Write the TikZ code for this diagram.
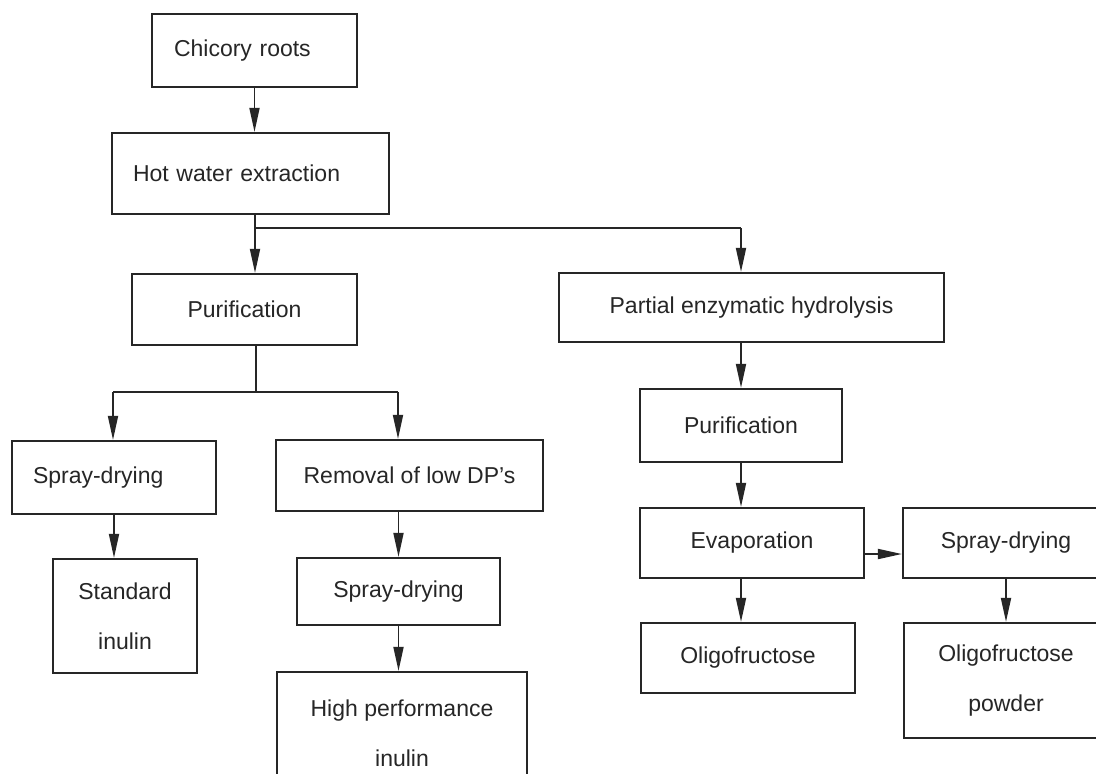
\documentclass[tikz,border=0pt]{standalone}
\usepackage{fontspec}
\setmainfont{Liberation Sans}
\usetikzlibrary{arrows.meta}
\begin{document}
\begin{tikzpicture}[x=1pt,y=-1pt,
  flowbox/.style={draw=black!85, line width=2.2pt, rectangle, inner sep=0pt, align=center,
    font=\fontsize{23}{50}\selectfont, text=black!85},
  lbox/.style={flowbox, align=left},
  arr/.style={draw=black!85, line width=1.8pt, -{Triangle[length=24pt,width=10pt]}},
  ln/.style={draw=black!85, line width=1.8pt}]
\useasboundingbox (0,0) rectangle (1096,774);
\clip (0,0) rectangle (1096,774);
\fill[white] (0,0) rectangle (1096,774);
% boxes
\node[lbox, minimum width=205pt, minimum height=73pt, inner xsep=22pt, text width=161pt] (chicory) at (254.5,50.5) {Chicory roots};
\node[lbox, minimum width=277pt, minimum height=81pt, inner xsep=21pt, text width=235pt] (hotwater) at (250.5,173.5) {Hot water extraction};
\node[flowbox, minimum width=225pt, minimum height=71pt] (purL) at (244.5,309.5) {Purification};
\node[flowbox, minimum width=385pt, minimum height=69pt] (partial) at (751.5,307.5) {Partial enzymatic hydrolysis};
\node[lbox, minimum width=204pt, minimum height=73pt, inner xsep=21pt, text width=162pt] (sprayL) at (114,477.5) {Spray-drying};
\node[flowbox, minimum width=267pt, minimum height=71pt] (removal) at (409.5,475.5) {Removal of low DP's};
\node[flowbox, minimum width=144pt, minimum height=114pt] (std) at (125,616) {Standard\\inulin};
\node[flowbox, minimum width=203pt, minimum height=67pt] (sprayM) at (398.5,591.5) {Spray-drying};
\node[flowbox, minimum width=250pt, minimum height=123pt] (hpi) at (402,733.5) {High performance\\inulin};
\node[flowbox, minimum width=202pt, minimum height=73pt] (purR) at (741,425.5) {Purification};
\node[flowbox, minimum width=224pt, minimum height=70pt] (evap) at (752,543) {Evaporation};
\node[flowbox, minimum width=206pt, minimum height=70pt] (sprayR) at (1006,543) {Spray-drying};
\node[flowbox, minimum width=214pt, minimum height=70pt] (oligo) at (748,658) {Oligofructose};
\node[flowbox, minimum width=204pt, minimum height=115pt] (olipow) at (1006,680.5) {Oligofructose\\powder};
% junctions
\coordinate (j1) at (255,228);
\coordinate (j1r) at (741,228);
\coordinate (j2) at (256,392);
\coordinate (j2l) at (113,392);
\coordinate (j2r) at (398,392);
% connectors
\draw[arr] (chicory.south) -- (chicory.south |- hotwater.north);
\draw[ln] (hotwater.south -| j1) -- (j1) -- (j1r);
\draw[arr] (j1) -- (j1 |- purL.north);
\draw[arr] (j1r) -- (j1r |- partial.north);
\draw[ln] (purL.south -| j2) -- (j2);
\draw[ln] (j2l) -- (j2r);
\draw[arr] (j2l) -- (j2l |- sprayL.north);
\draw[arr] (j2r) -- (j2r |- removal.north);
\draw[arr] (sprayL.south) -- (sprayL.south |- std.north);
\draw[arr] (removal.south -| sprayM.north) -- (sprayM.north);
\draw[arr] (sprayM.south) -- (sprayM.south |- hpi.north);
\draw[arr] (purR.north |- partial.south) -- (purR.north);
\draw[arr] (purR.south) -- (purR.south |- evap.north);
\draw[arr] (purR.south |- evap.south) -- (purR.south |- oligo.north);
\draw[arr] ([yshift=-11pt]evap.east) -- ([yshift=-11pt]evap.east -| sprayR.west);
\draw[arr] (sprayR.south) -- (sprayR.south |- olipow.north);
\end{tikzpicture}
\end{document}
